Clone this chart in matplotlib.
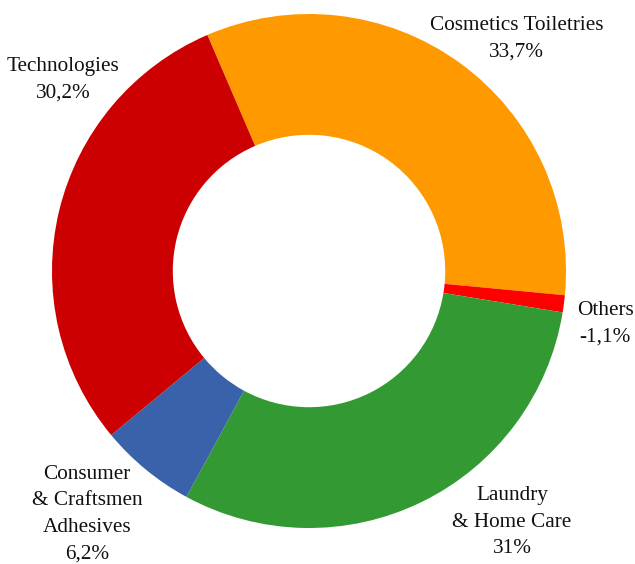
import matplotlib
matplotlib.use("Agg")
import matplotlib.pyplot as plt

# segment shares (Others is negative, drawn by size)
categories = ["Cosmetics Toiletries", "Others", "Laundry\n& Home Care",
              "Consumer\n& Craftsmen\nAdhesives", "Technologies"]
values = [33.7, -1.1, 31.0, 6.2, 30.2]
colors = ["#FF9900", "#FF0000", "#339933", "#3A62AA", "#CC0000"]

# label block centres (data units, outer radius = 1)
label_pos = [(0.809, 0.903), (1.152, -0.206), (0.790, -0.977),
             (-0.864, -0.946), (-0.957, 0.743)]

plt.rcParams['font.family'] = ['Liberation Serif', 'DejaVu Serif']

fig = plt.figure(figsize=(6.35, 5.64), dpi=100)
ax = fig.add_axes([0, 0, 1, 1])

ax.pie([abs(v) for v in values], colors=colors, startangle=113.3,
       counterclock=False, radius=1.0,
       wedgeprops=dict(width=0.47, linewidth=0))

for cat, v, (x, y) in zip(categories, values, label_pos):
    txt = f"{cat}\n{v:g}%".replace('.', ',')
    ax.text(x, y, txt, ha='center', va='center', fontsize=15.3,
            linespacing=1.55, color='#111111')

ax.set_xlim(-309 / 257, (635 - 309) / 257)
ax.set_ylim(-(564 - 271) / 257, 271 / 257)
ax.axis('off')

fig.savefig("out.png", dpi=100)
